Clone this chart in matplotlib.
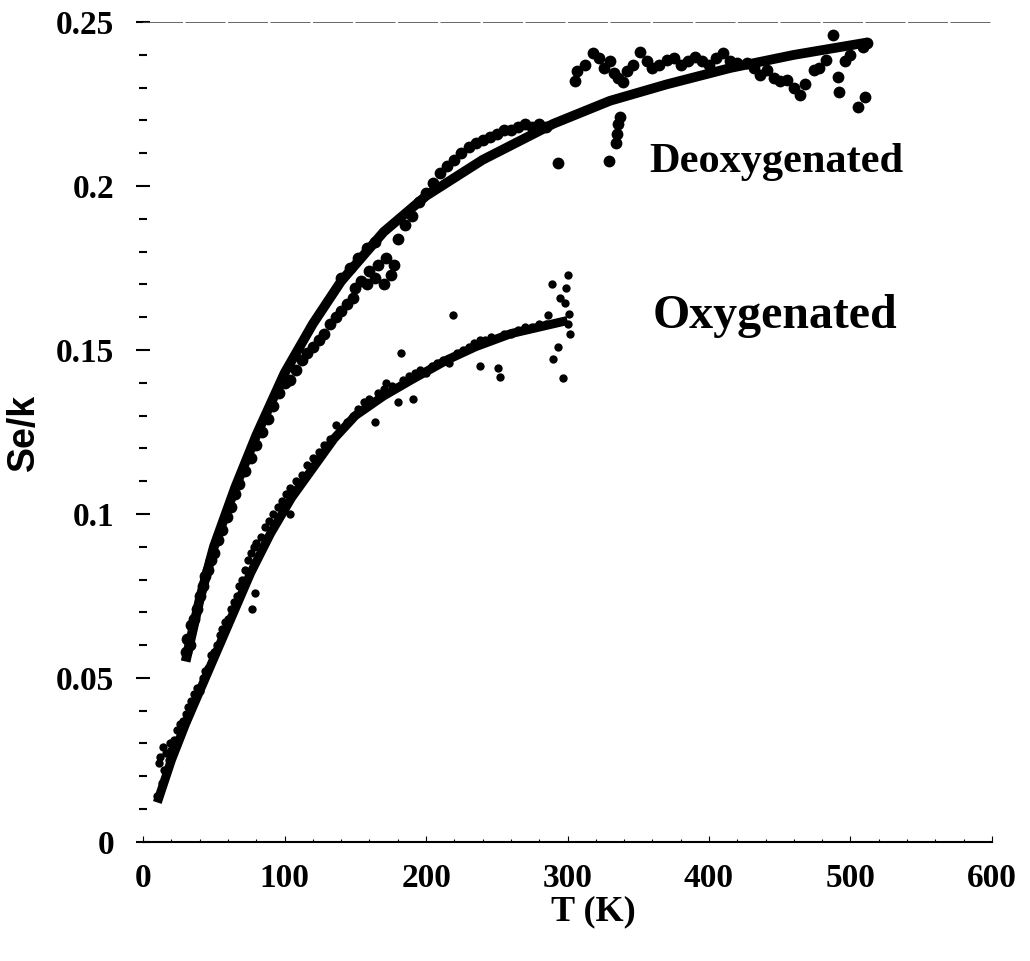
import numpy as np
import matplotlib.pyplot as plt
from matplotlib.ticker import MultipleLocator, FormatStrFormatter

# fitted curves
fit_deoxy_T = [30, 40, 50, 65, 80, 100, 120, 140, 170, 200, 240, 290, 330, 370, 415, 460, 512]
fit_deoxy_S = [0.055, 0.074, 0.090, 0.108, 0.124, 0.143, 0.158, 0.171, 0.186, 0.197, 0.208, 0.219, 0.226, 0.231, 0.236, 0.240, 0.2438]

fit_oxy_T = [10, 20, 30, 45, 60, 76, 90, 105, 120, 135, 150, 170, 190, 215, 235, 260, 280, 300]
fit_oxy_S = [0.012, 0.025, 0.036, 0.051, 0.066, 0.082, 0.094, 0.105, 0.114, 0.123, 0.130, 0.136, 0.141, 0.147, 0.151, 0.155, 0.157, 0.159]

# measured points, deoxygenated
deoxy_T = [30, 31, 33, 34, 36, 38, 40, 42, 44, 46, 48, 50, 53, 56, 59, 62, 65, 68, 72, 76,
           80, 84, 88, 92, 96, 100, 104, 108, 112, 116, 120, 124, 128, 132, 136, 140, 144, 148,
           150, 154, 158, 160, 164, 166, 170, 172, 175, 177, 140, 146, 152, 158, 164,
           180, 185, 190, 195, 200, 205, 210, 215, 220, 225, 230, 235, 240, 245, 250, 255,
           260, 265, 270, 275, 280, 285, 293,
           305, 307, 312, 318, 322, 326, 330, 333, 336, 339, 342, 346, 351, 356, 360, 365,
           370, 375, 380, 385, 390, 395, 400, 405, 410, 415, 420, 427, 432, 436, 441, 446,
           450, 455, 460, 464, 468, 474, 478, 483, 488, 491, 492, 496, 500, 505, 509, 510, 512,
           334, 335, 336, 337, 329]
deoxy_S = [0.058, 0.062, 0.060, 0.066, 0.068, 0.071, 0.075, 0.078, 0.081, 0.083, 0.086, 0.088,
           0.092, 0.095, 0.099, 0.102, 0.106, 0.109, 0.113, 0.117, 0.121, 0.125, 0.129, 0.133,
           0.137, 0.140, 0.141, 0.144, 0.147, 0.149, 0.151, 0.153, 0.155, 0.158, 0.160, 0.162,
           0.164, 0.166, 0.169, 0.171, 0.170, 0.174, 0.172, 0.176, 0.170, 0.178, 0.173, 0.176,
           0.172, 0.175, 0.178, 0.181, 0.183,
           0.184, 0.188, 0.191, 0.195, 0.198, 0.201, 0.204, 0.206, 0.208, 0.210, 0.212, 0.213,
           0.214, 0.215, 0.216, 0.217, 0.217, 0.218, 0.219, 0.218, 0.219, 0.218, 0.207,
           0.232, 0.235, 0.237, 0.2405, 0.239, 0.236, 0.238, 0.2345, 0.233, 0.2317, 0.235,
           0.237, 0.241, 0.238, 0.236, 0.237, 0.2384, 0.239, 0.237, 0.238, 0.2393, 0.238,
           0.237, 0.239, 0.2405, 0.238, 0.2375, 0.2375, 0.236, 0.234, 0.2354, 0.233, 0.232,
           0.2323, 0.230, 0.2277, 0.231, 0.2354, 0.236, 0.2384, 0.246, 0.2332, 0.2287, 0.238,
           0.240, 0.224, 0.2424, 0.2271, 0.2435,
           0.213, 0.216, 0.219, 0.221, 0.2076]

# measured points, oxygenated
oxy_T = [10, 11, 12, 13, 14, 15, 16, 18, 19, 20, 22, 24, 26, 28, 30, 32, 34, 36, 38, 40,
         42, 44, 46, 48, 50, 52, 54, 56, 58, 60, 62, 64, 66, 68, 70, 72, 74, 77, 79, 76,
         78, 80, 83, 86, 89, 92, 95, 98, 101, 104, 104, 108, 112, 116, 120, 124, 128, 132,
         136, 140, 144, 148, 152, 156, 160, 164, 166, 170, 172, 176, 180, 182, 184, 188,
         191, 192, 196, 200, 204, 208, 212, 216, 219, 222, 226, 230, 234, 238, 238, 242,
         246, 251, 252, 255, 260, 265, 270, 275, 280, 285, 286, 289, 290, 293, 295, 297,
         298, 299, 300, 300, 302, 301]
oxy_S = [0.014, 0.024, 0.026, 0.018, 0.029, 0.022, 0.027, 0.025, 0.030, 0.028, 0.031, 0.034,
         0.036, 0.037, 0.039, 0.041, 0.043, 0.045, 0.047, 0.046, 0.050, 0.052, 0.053, 0.057,
         0.058, 0.060, 0.063, 0.065, 0.067, 0.068, 0.071, 0.073, 0.075, 0.078, 0.080, 0.083,
         0.086, 0.071, 0.076, 0.088, 0.090, 0.091, 0.093, 0.096, 0.098, 0.100, 0.102, 0.104,
         0.106, 0.100, 0.108, 0.110, 0.112, 0.115, 0.117, 0.119, 0.121, 0.123, 0.127, 0.126,
         0.128, 0.130, 0.132, 0.134, 0.135, 0.128, 0.137, 0.138, 0.140, 0.139, 0.134, 0.149,
         0.141, 0.142, 0.135, 0.143, 0.144, 0.143, 0.145, 0.146, 0.147, 0.146, 0.1607, 0.149,
         0.150, 0.151, 0.152, 0.145, 0.153, 0.153, 0.154, 0.1445, 0.1418, 0.155, 0.155,
         0.156, 0.157, 0.157, 0.158, 0.158, 0.1607, 0.170, 0.1473, 0.151, 0.166, 0.1415,
         0.1643, 0.169, 0.173, 0.158, 0.155, 0.161]

serif = "Liberation Serif"

fig = plt.figure(figsize=(10.3, 9.61), dpi=100)
ax = fig.add_axes([0.139, 0.124, 0.824, 0.853])

ax.plot(fit_deoxy_T, fit_deoxy_S, color="black", lw=7, solid_capstyle="butt")
ax.plot(fit_oxy_T, fit_oxy_S, color="black", lw=6.5, solid_capstyle="butt")
ax.plot(deoxy_T, deoxy_S, "o", color="black", ms=8.5, mew=0, ls="none")
ax.plot(oxy_T, oxy_S, "o", color="black", ms=6, mew=0, ls="none")

ax.axhline(0.25, color="0.3", lw=1.2, ls=(0, (24, 1.5)))

ax.text(358, 0.2043, "Deoxygenated", family=serif, weight="bold", fontsize=30.5)
ax.text(360, 0.1567, "Oxygenated", family=serif, weight="bold", fontsize=34.5)

ax.set_xlim(0, 600)
ax.set_ylim(0, 0.25)
for s in ["top", "right", "left"]:
    ax.spines[s].set_visible(False)
ax.spines["bottom"].set_linewidth(1.5)

ax.xaxis.set_major_locator(MultipleLocator(100))
ax.xaxis.set_minor_locator(MultipleLocator(20))
ax.yaxis.set_major_locator(MultipleLocator(0.05))
ax.yaxis.set_minor_locator(MultipleLocator(0.01))
ax.yaxis.set_major_formatter(FormatStrFormatter("%g"))

ax.tick_params(axis="x", which="major", direction="in", length=4, width=0.8, pad=15)
ax.tick_params(axis="x", which="minor", direction="in", length=2.5, width=0.8)
ax.tick_params(axis="y", which="major", direction="inout", length=10, width=1.5, pad=16)
ax.tick_params(axis="y", which="minor", direction="inout", length=6, width=1.5)
for lab in ax.get_xticklabels() + ax.get_yticklabels():
    lab.set_fontfamily(serif)
    lab.set_fontweight("bold")
    lab.set_fontsize(24)

ax.set_xlabel("T (K)", family=serif, weight="bold", fontsize=26, va="center")
ax.xaxis.set_label_coords(0.53, -0.085)
ax.set_ylabel("Se/k", family="Liberation Sans", weight="bold", fontsize=27)
ax.yaxis.set_label_coords(-0.119, 0.5)

plt.savefig("out.png", dpi=100)
